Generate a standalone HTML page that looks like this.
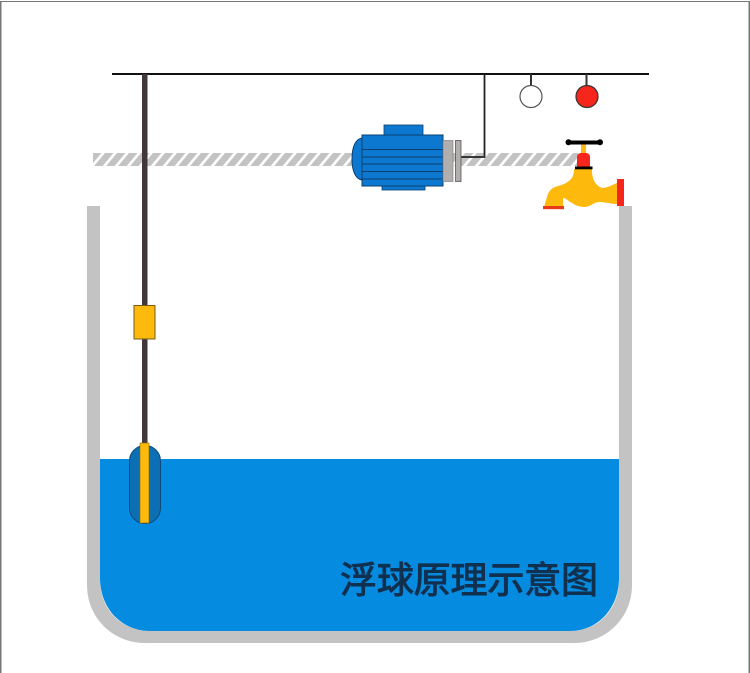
<!DOCTYPE html>
<html>
<head>
<meta charset="utf-8">
<style>
html,body{margin:0;padding:0;background:#fff;}
svg{display:block;}
text{font-family:"Liberation Sans","Noto Sans CJK SC",sans-serif;}
</style>
</head>
<body>
<svg width="750" height="673" viewBox="0 0 750 673" xmlns="http://www.w3.org/2000/svg">
<defs>
<pattern id="h" width="12" height="13" patternUnits="userSpaceOnUse" patternTransform="translate(93 153) skewX(-40)">
<rect width="12" height="13" fill="#fff"/>
<rect width="8.500" height="13" fill="#c3c3c3"/>
</pattern>
</defs>
<rect width="750" height="673" fill="#fff"/>
<rect x="0" y="1" width="750" height="1" fill="#777"/>
<rect x="0" y="1" width="1.500" height="672" fill="#777"/>
<rect x="748.500" y="1" width="1.500" height="672" fill="#777"/>

<!-- hatch -->
<rect x="93" y="153" width="485" height="13" fill="url(#h)"/>

<!-- tank -->
<path d="M87 206H100V580C100 610 122 631 150 631H570C598 631 619 610 619 580V206H632V585C632 618 606 643 574 643H145C113 643 87 618 87 585Z" fill="#c3c3c3"/>
<path d="M100 459H619V578C619 609 597 631 570 631H150C122 631 100 609 100 578Z" fill="#058be0"/>

<!-- wires -->
<rect x="112" y="73" width="537" height="2" fill="#111"/>
<path d="M461 157H484.500V74" fill="none" stroke="#222" stroke-width="1.800"/>
<rect x="530" y="74" width="2" height="12" fill="#333"/>
<rect x="585.500" y="74" width="2" height="12" fill="#333"/>
<circle cx="531" cy="96.500" r="11" fill="#fff" stroke="#555" stroke-width="1.200"/>
<circle cx="587" cy="96.500" r="11" fill="#f6261c" stroke="#333" stroke-width="1.200"/>

<!-- rod -->
<rect x="142" y="74" width="5.500" height="372" fill="#40383a"/>
<rect x="134" y="305.500" width="21" height="33.500" fill="#fdb90c" stroke="#7a5a14" stroke-width="1"/>

<!-- float -->
<rect x="129.500" y="445.500" width="31" height="78" rx="15.500" ry="15.500" fill="#0d6fb3" stroke="#0b4a7a" stroke-width="1"/>
<rect x="140" y="443" width="9" height="80" fill="#fdb90c" stroke="#8a6a14" stroke-width="0.600"/>

<!-- motor -->
<path d="M362 138C356 139 352 146 352 159C352 172 356 179 362 180Z" fill="#0d78d0" stroke="#0a3f70" stroke-width="1"/>
<rect x="384" y="125" width="39" height="10" fill="#0d78d0" stroke="#0a3f70" stroke-width="0.800"/>
<rect x="382" y="186" width="43" height="4" fill="#0d78d0" stroke="#0a3f70" stroke-width="0.800"/>
<rect x="362" y="135" width="81" height="51" fill="#0d78d0" stroke="#0a3f70" stroke-width="1"/>
<path d="M362 149.500H443M362 157H443M362 164H443M362 171.500H443M362 179H443" stroke="#0a3f70" stroke-width="1" fill="none"/>
<rect x="443" y="140.500" width="10" height="41" fill="#b2aeae" stroke="#777" stroke-width="0.600"/>
<rect x="455.500" y="140.500" width="5.500" height="41" fill="#b2aeae" stroke="#555" stroke-width="0.800"/>

<!-- faucet -->
<rect x="581" y="143" width="5" height="12" fill="#fdb90c"/>
<rect x="568" y="140.500" width="33" height="4" rx="2" fill="#000"/>
<circle cx="568.500" cy="142.300" r="3" fill="#000"/>
<circle cx="600" cy="142.300" r="3" fill="#000"/>
<path d="M577 167V157C577 154.500 579 153 581 153H586C588 153 590 154.500 590 157V167Z" fill="#f6261c"/>
<path d="M574 169C574 173 573 178 570 180C566 184 561 185 555 187C550 189 548 193 547 197L544 207H563V198C566 198 568 201 572 203C576 206 581 207 585 207C590 207 594 202 599 202C605 202 611 204 617 204V183C612 185 607 188 602 188C597 186 594 182 593 178C592 175 592 172 592 169Z" fill="#fdb90c"/>
<rect x="575" y="166.500" width="17.500" height="2.800" fill="#000"/>
<rect x="543" y="206" width="21" height="3.200" fill="#e8391a"/>
<rect x="617" y="179" width="7" height="27" fill="#f6261c"/>

<!-- title -->
<text x="340" y="593" font-size="37" font-weight="400" fill="#10304f" stroke="#10304f" stroke-width="1" textLength="258" lengthAdjust="spacing">浮球原理示意图</text>
</svg>
</body>
</html>
